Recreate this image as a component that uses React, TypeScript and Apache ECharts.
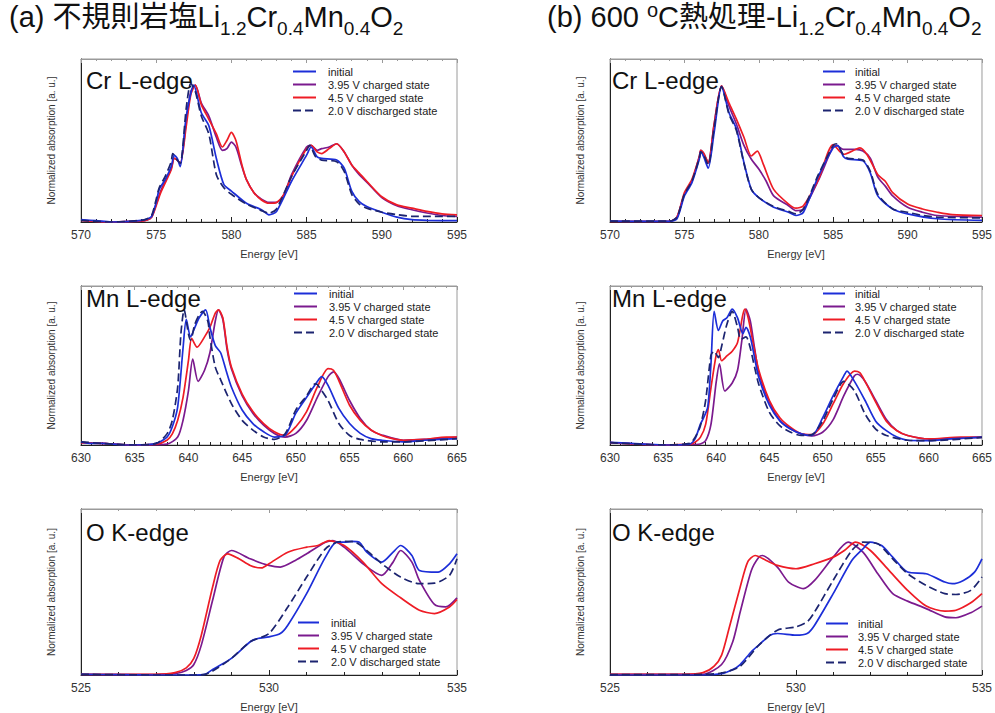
import React, { useEffect, useRef } from "react";
import * as echarts from "echarts";

const seriesNames = ["initial", "3.95 V charged state", "4.5 V charged state", "2.0 V discharged state"];
const seriesColors = ["#1c2ed8", "#7b1a8e", "#ee1c25", "#1c2470"];

// ---------- Cr L-edge, (a) ----------
const crA_init = [[570,0.014],[571,0.008],[572,0.0],[573,0.002],[574,0.01],[574.4,0.018],[574.7,0.035],[575,0.12],[575.2,0.2],[575.6,0.26],[576,0.34],[576.2,0.41],[576.4,0.39],[576.6,0.34],[577,0.65],[577.5,0.84],[578,0.67],[578.5,0.59],[579,0.39],[579.5,0.23],[580,0.19],[581,0.115],[582,0.075],[582.5,0.044],[583,0.065],[584,0.25],[585,0.41],[585.3,0.46],[585.7,0.4],[586,0.39],[587,0.38],[587.5,0.33],[588,0.19],[588.5,0.125],[589,0.095],[590,0.06],[591,0.03],[592,0.014],[593,0.01],[595,0.008]];
const crA_395 = [[570,0.012],[572,0.0],[574,0.005],[574.4,0.012],[574.7,0.03],[575,0.11],[575.3,0.19],[575.7,0.27],[576,0.33],[576.2,0.39],[576.4,0.38],[576.6,0.36],[577,0.62],[577.3,0.8],[577.6,0.84],[578,0.73],[578.5,0.65],[579,0.52],[579.4,0.44],[579.7,0.45],[580,0.49],[580.3,0.46],[580.7,0.34],[581,0.26],[581.5,0.18],[582,0.14],[582.5,0.12],[583,0.12],[583.5,0.17],[584,0.29],[585,0.46],[585.3,0.47],[585.7,0.44],[586,0.45],[586.5,0.46],[587,0.48],[587.5,0.43],[588,0.35],[588.5,0.29],[589,0.245],[590,0.15],[591,0.1],[592,0.075],[593,0.055],[594,0.04],[595,0.034]];
const crA_45 = [[570,0.01],[572,0.0],[574,0.005],[574.4,0.012],[574.7,0.03],[575,0.1],[575.3,0.18],[575.7,0.26],[576,0.32],[576.2,0.39],[576.4,0.38],[576.6,0.36],[577,0.59],[577.3,0.78],[577.6,0.84],[578,0.72],[578.5,0.63],[579,0.54],[579.4,0.46],[579.7,0.5],[580,0.55],[580.3,0.5],[580.7,0.35],[581,0.26],[581.5,0.18],[582,0.135],[582.5,0.115],[583,0.12],[583.5,0.17],[584,0.28],[585,0.45],[585.3,0.47],[585.7,0.43],[586,0.42],[586.5,0.45],[587,0.48],[587.5,0.43],[588,0.35],[588.5,0.3],[589,0.25],[590,0.155],[591,0.105],[592,0.085],[593,0.065],[594,0.05],[595,0.044]];
const crA_20 = [[570,0.01],[572,0.0],[574,0.01],[574.4,0.02],[574.7,0.04],[575,0.14],[575.2,0.21],[575.6,0.28],[576,0.37],[576.1,0.42],[576.4,0.38],[576.6,0.36],[577,0.7],[577.3,0.85],[577.6,0.8],[578,0.65],[578.5,0.54],[579,0.29],[579.5,0.21],[580,0.17],[581,0.11],[582,0.07],[582.5,0.055],[583,0.08],[584,0.28],[585,0.44],[585.2,0.47],[585.6,0.4],[586,0.38],[587,0.37],[587.5,0.31],[588,0.17],[588.5,0.11],[589,0.085],[590,0.06],[591,0.045],[592,0.035],[593,0.035],[595,0.035]];

// ---------- Cr L-edge, (b) ----------
const crB_init = [[570,0.005],[572,0.004],[574,0.004],[574.5,0.02],[575,0.16],[575.5,0.24],[576,0.385],[576.1,0.43],[576.3,0.4],[576.6,0.33],[577,0.55],[577.5,0.83],[578,0.67],[578.5,0.57],[579,0.365],[579.5,0.2],[580,0.15],[581,0.09],[582,0.06],[582.5,0.04],[583,0.06],[584,0.28],[585,0.455],[585.3,0.47],[585.7,0.4],[586,0.385],[587,0.375],[587.5,0.3],[588,0.16],[589,0.08],[590,0.05],[592,0.02],[595,0.01]];
const crB_395 = [[570,0.004],[574,0.004],[574.5,0.03],[575,0.17],[575.5,0.25],[576,0.4],[576.1,0.44],[576.3,0.42],[576.6,0.36],[577,0.6],[577.5,0.835],[578,0.71],[578.5,0.6],[579,0.47],[579.5,0.385],[580,0.325],[580.5,0.25],[581,0.16],[582,0.1],[582.5,0.07],[583,0.08],[584,0.255],[585,0.465],[585.2,0.47],[585.7,0.445],[586.5,0.445],[587,0.435],[587.5,0.39],[588,0.275],[588.5,0.22],[589,0.16],[590,0.09],[591,0.06],[592,0.04],[595,0.03]];
const crB_45 = [[570,0.003],[574,0.004],[574.5,0.03],[575,0.18],[575.5,0.26],[576,0.4],[576.1,0.44],[576.3,0.42],[576.6,0.365],[577,0.6],[577.5,0.835],[578,0.73],[578.5,0.63],[579,0.52],[579.5,0.405],[579.9,0.435],[580.3,0.355],[581,0.2],[582,0.11],[582.5,0.085],[583,0.1],[584,0.26],[585,0.475],[585.7,0.415],[586.5,0.445],[586.8,0.455],[587.3,0.41],[588,0.29],[588.5,0.25],[589,0.18],[590,0.11],[591,0.08],[592,0.06],[593,0.045],[595,0.04]];
const crB_20 = [[570,0.005],[574,0.005],[574.5,0.03],[575,0.17],[575.5,0.25],[576,0.39],[576.1,0.43],[576.3,0.41],[576.6,0.35],[577,0.58],[577.5,0.83],[578,0.66],[578.5,0.56],[579,0.36],[579.5,0.2],[580,0.15],[581,0.095],[582,0.065],[582.5,0.05],[583,0.08],[584,0.29],[585,0.47],[585.2,0.48],[585.7,0.41],[586,0.39],[587,0.38],[587.5,0.31],[588,0.17],[589,0.08],[590,0.06],[591,0.04],[592,0.03],[595,0.025]];

// ---------- Mn L-edge, (a) ----------
const mnA_init = [[630,0.02],[631,0.01],[632,0.01],[634,0.0],[635,0.0],[637,0.01],[638,0.05],[638.5,0.115],[639,0.24],[639.5,0.61],[639.8,0.79],[640.2,0.68],[640.6,0.74],[641,0.8],[641.6,0.85],[642,0.74],[642.5,0.625],[643,0.58],[643.5,0.47],[644,0.365],[645,0.22],[646,0.135],[647,0.083],[648,0.05],[649,0.06],[650,0.2],[651,0.3],[652,0.4],[652.4,0.43],[653,0.375],[654,0.23],[655,0.135],[656,0.073],[657,0.04],[658,0.03],[660,0.02],[662,0.03],[665,0.04]];
const mnA_395 = [[630,0.015],[632,0.01],[635,0.0],[638,0.006],[639,0.05],[639.5,0.156],[640,0.34],[640.4,0.54],[640.9,0.4],[641.5,0.47],[642,0.58],[642.5,0.78],[642.8,0.85],[643.2,0.79],[643.6,0.6],[644,0.48],[645,0.31],[646,0.2],[647,0.125],[648,0.073],[649,0.05],[650,0.073],[651,0.156],[652,0.3],[653,0.43],[653.5,0.46],[654,0.42],[655,0.28],[656,0.167],[657,0.094],[658,0.063],[660,0.03],[662,0.035],[665,0.05]];
const mnA_45 = [[630,0.015],[632,0.01],[635,0.0],[637,0.005],[638,0.03],[638.5,0.07],[639,0.156],[639.5,0.3],[640,0.53],[640.3,0.67],[640.8,0.615],[641.5,0.68],[642,0.74],[642.5,0.83],[642.8,0.85],[643.2,0.8],[643.6,0.615],[644,0.49],[645,0.32],[646,0.21],[647,0.135],[648,0.083],[649,0.06],[650,0.115],[651,0.21],[652,0.365],[653,0.48],[653.5,0.47],[654,0.405],[655,0.25],[656,0.155],[657,0.094],[658,0.06],[659,0.04],[660,0.03],[662,0.035],[664,0.05],[665,0.05]];
const mnA_20 = [[630,0.02],[632,0.01],[635,0.0],[637,0.01],[638,0.07],[638.5,0.155],[639,0.365],[639.3,0.7],[639.6,0.85],[640,0.7],[640.2,0.66],[640.6,0.76],[641,0.82],[641.3,0.84],[641.8,0.78],[642,0.68],[642.5,0.49],[643,0.41],[644,0.26],[645,0.155],[646,0.094],[647,0.05],[648,0.035],[649,0.07],[650,0.22],[651,0.31],[651.8,0.385],[652,0.38],[653,0.28],[654,0.135],[655,0.06],[656,0.035],[658,0.02],[660,0.02],[665,0.04]];

// ---------- Mn L-edge, (b) ----------
const mnB_init = [[630,0.017],[632,0.01],[635,0.0],[637.5,0.006],[638,0.038],[638.5,0.13],[638.8,0.17],[639.2,0.24],[639.5,0.51],[639.8,0.84],[640.2,0.72],[640.6,0.78],[641,0.8],[641.5,0.855],[642,0.8],[642.5,0.7],[642.8,0.74],[643.2,0.68],[643.6,0.55],[644,0.425],[645,0.25],[646,0.15],[647,0.1],[648,0.07],[649,0.06],[650,0.17],[651,0.31],[652,0.435],[652.3,0.465],[653,0.4],[654,0.28],[655,0.15],[656,0.09],[657,0.05],[658,0.03],[660,0.027],[662,0.038],[665,0.05]];
const mnB_395 = [[630,0.015],[635,0.0],[638,0.003],[638.5,0.006],[639,0.027],[639.5,0.13],[640,0.4],[640.3,0.51],[640.8,0.34],[641.5,0.39],[642,0.47],[642.4,0.655],[642.8,0.855],[643.2,0.78],[643.6,0.61],[644,0.455],[645,0.27],[646,0.153],[647,0.1],[648,0.07],[649,0.057],[650,0.08],[651,0.16],[652,0.31],[653,0.435],[653.3,0.445],[654,0.4],[655,0.28],[656,0.16],[657,0.09],[658,0.06],[660,0.038],[665,0.048]];
const mnB_45 = [[630,0.015],[635,0.0],[637.5,0.005],[638,0.017],[638.5,0.048],[639,0.13],[639.5,0.36],[640,0.57],[640.2,0.6],[640.5,0.53],[641,0.56],[641.5,0.59],[642,0.645],[642.5,0.82],[642.7,0.855],[643,0.8],[643.5,0.63],[644,0.47],[645,0.28],[646,0.17],[647,0.11],[648,0.07],[649,0.065],[650,0.13],[651,0.26],[652,0.39],[653,0.465],[653.5,0.455],[654,0.4],[655,0.27],[656,0.15],[657,0.09],[658,0.06],[660,0.038],[663,0.05],[665,0.05]];
const mnB_20 = [[630,0.015],[635,0.0],[637.5,0.01],[638,0.048],[638.5,0.12],[639,0.28],[639.5,0.565],[639.8,0.59],[640.2,0.55],[640.5,0.62],[641,0.76],[641.5,0.84],[642,0.74],[642.3,0.665],[642.8,0.68],[643.2,0.61],[643.6,0.49],[644,0.38],[645,0.205],[646,0.12],[647,0.08],[648,0.06],[649,0.065],[650,0.15],[651,0.29],[652,0.4],[653,0.34],[654,0.195],[655,0.1],[656,0.06],[658,0.03],[660,0.027],[665,0.048]];

// ---------- O K-edge, (a) ----------
const oA_init = [[525,0.004],[526,0.002],[527,0.0],[528,0.0],[528.3,0.004],[528.5,0.033],[529,0.1],[529.5,0.2],[529.7,0.22],[530,0.23],[530.3,0.25],[530.5,0.3],[531,0.49],[531.5,0.71],[531.8,0.8],[532,0.8],[532.2,0.805],[532.4,0.8],[532.6,0.74],[533,0.68],[533.3,0.74],[533.5,0.78],[533.8,0.72],[534,0.63],[534.5,0.62],[534.8,0.67],[535,0.73]];
const oA_395 = [[525,0.004],[526,0.002],[527,0.004],[527.5,0.008],[527.8,0.027],[528,0.063],[528.2,0.18],[528.5,0.45],[528.8,0.71],[529,0.75],[529.5,0.7],[530,0.66],[530.3,0.65],[530.7,0.69],[531,0.73],[531.5,0.8],[531.7,0.81],[532,0.77],[532.5,0.67],[533,0.6],[533.3,0.68],[533.5,0.75],[533.8,0.68],[534,0.57],[534.4,0.425],[534.7,0.41],[535,0.465]];
const oA_45 = [[525,0.004],[526,0.004],[527,0.004],[527.5,0.014],[527.8,0.043],[528,0.1],[528.2,0.24],[528.5,0.53],[528.7,0.69],[528.9,0.73],[529.2,0.7],[529.5,0.66],[529.8,0.645],[530,0.67],[530.5,0.74],[531,0.77],[531.3,0.78],[531.6,0.81],[532,0.78],[532.5,0.68],[533,0.55],[533.5,0.465],[534,0.39],[534.4,0.37],[534.8,0.41],[535,0.455]];
const oA_20 = [[525,0.004],[527,0.0],[528,0.0],[528.3,0.004],[528.5,0.024],[529,0.1],[529.5,0.2],[530,0.25],[530.5,0.41],[531,0.59],[531.5,0.76],[531.8,0.8],[532,0.805],[532.3,0.8],[532.8,0.71],[533,0.67],[533.5,0.59],[534,0.55],[534.4,0.553],[534.8,0.6],[535,0.7]];

// ---------- O K-edge, (b) ----------
const oB_init = [[525,0.0],[527,0.0],[527.5,0.0],[528,0.008],[528.3,0.033],[528.5,0.063],[528.8,0.14],[529,0.18],[529.3,0.24],[529.5,0.25],[530,0.24],[530.3,0.25],[530.5,0.3],[531,0.49],[531.5,0.69],[531.8,0.76],[532,0.8],[532.3,0.78],[532.6,0.71],[533,0.62],[533.5,0.61],[534,0.56],[534.2,0.55],[534.5,0.57],[534.8,0.62],[535,0.7]];
const oB_395 = [[525,0.004],[527,0.004],[527.5,0.004],[528,0.063],[528.3,0.2],[528.5,0.38],[528.8,0.63],[529,0.71],[529.1,0.72],[529.5,0.65],[529.8,0.56],[530.2,0.52],[530.5,0.57],[531,0.71],[531.4,0.8],[531.8,0.74],[532.2,0.61],[532.6,0.49],[533,0.445],[533.5,0.4],[534,0.35],[534.3,0.345],[534.7,0.375],[535,0.415]];
const oB_45 = [[525,0.004],[526,0.004],[527,0.004],[527.5,0.014],[527.8,0.053],[528,0.12],[528.2,0.28],[528.5,0.53],[528.7,0.68],[528.9,0.72],[529.2,0.69],[529.5,0.66],[530,0.64],[530.5,0.67],[531,0.71],[531.3,0.75],[531.6,0.8],[532,0.75],[532.5,0.63],[533,0.51],[533.5,0.415],[534,0.385],[534.3,0.39],[534.7,0.435],[535,0.49]];
const oB_20 = [[525,0.002],[527,0.002],[527.5,0.004],[528,0.012],[528.5,0.053],[529,0.18],[529.5,0.27],[530,0.29],[530.3,0.32],[530.5,0.38],[531,0.57],[531.5,0.75],[531.8,0.8],[532.2,0.79],[532.6,0.7],[533,0.61],[533.5,0.54],[534,0.49],[534.3,0.485],[534.7,0.51],[535,0.59]];

const FONT = "'Liberation Sans', Arial, 'Noto Sans CJK JP', sans-serif";

type Panel = {
  grid: { left: number; top: number; width: number; height: number };
  xr: [number, number];
  label: string;
  labelPos: [number, number];
  data: number[][][]; // initial, 3.95, 4.5, 2.0
  legend: { left: number; top: number; w: number; pad: number };
};

const panels: Panel[] = [
  { grid: { left: 81, top: 59, width: 376, height: 163 }, xr: [570, 595], label: "Cr L-edge", labelPos: [86, 81], data: [crA_init, crA_395, crA_45, crA_20], legend: { left: 292, top: 65, w: 23, pad: 7 } },
  { grid: { left: 81, top: 286, width: 376, height: 159 }, xr: [630, 665], label: "Mn L-edge", labelPos: [86, 299], data: [mnA_init, mnA_395, mnA_45, mnA_20], legend: { left: 293, top: 287, w: 23, pad: 7 } },
  { grid: { left: 81, top: 509, width: 376, height: 170 }, xr: [525, 535], label: "O K-edge", labelPos: [86, 533], data: [oA_init, oA_395, oA_45, oA_20], legend: { left: 297, top: 616, w: 21, pad: 7 } },
  { grid: { left: 610, top: 59, width: 374, height: 163 }, xr: [570, 595], label: "Cr L-edge", labelPos: [612, 81], data: [crB_init, crB_395, crB_45, crB_20], legend: { left: 822, top: 65, w: 22, pad: 5 } },
  { grid: { left: 610, top: 286, width: 374, height: 159 }, xr: [630, 665], label: "Mn L-edge", labelPos: [612, 299], data: [mnB_init, mnB_395, mnB_45, mnB_20], legend: { left: 822, top: 287, w: 22, pad: 5 } },
  { grid: { left: 610, top: 509, width: 374, height: 170 }, xr: [525, 535], label: "O K-edge", labelPos: [612, 533], data: [oB_init, oB_395, oB_45, oB_20], legend: { left: 825, top: 617, w: 22, pad: 5 } },
];

function buildOption() {
  const grid: any[] = [];
  const xAxis: any[] = [];
  const yAxis: any[] = [];
  const series: any[] = [];
  const legend: any[] = [];
  const graphic: any[] = [];

  panels.forEach((p, i) => {
    grid.push({ ...p.grid, show: true, borderColor: "#9a9a9a", borderWidth: 1, containLabel: false });
    const common = {
      type: "value",
      gridIndex: i,
      min: p.xr[0],
      max: p.xr[1],
      interval: 5,
      splitLine: { show: false },
      minorSplitLine: { show: false },
    };
    xAxis.push({
      ...common,
      position: "bottom",
      axisLine: { show: true, lineStyle: { color: "#222", width: 1 } },
      axisTick: { show: true, inside: true, length: 5, lineStyle: { color: "#222" } },
      minorTick: { show: true, splitNumber: 5, length: 3, lineStyle: { color: "#222" } },
      axisLabel: { show: true, fontSize: 12, color: "#333", margin: 7, fontFamily: FONT },
      name: "Energy [eV]",
      nameLocation: "middle",
      nameGap: 26,
      nameTextStyle: { fontSize: 11, color: "#333", fontFamily: FONT },
    });
    xAxis.push({
      ...common,
      position: "top",
      axisLine: { show: true, lineStyle: { color: "#9a9a9a", width: 1 } },
      axisTick: { show: true, inside: true, length: 4, lineStyle: { color: "#9a9a9a" } },
      minorTick: { show: true, splitNumber: 5, length: 2, lineStyle: { color: "#9a9a9a" } },
      axisLabel: { show: false },
    });
    yAxis.push({
      type: "value",
      gridIndex: i,
      min: 0,
      max: 1,
      axisLine: { show: true, lineStyle: { color: "#222", width: 1 } },
      axisTick: { show: false },
      axisLabel: { show: false },
      splitLine: { show: false },
      name: "Normalized absorption [a. u.]",
      nameLocation: "middle",
      nameGap: 25,
      nameTextStyle: { fontSize: 10, color: "#333", fontFamily: FONT },
    });
    const order = [1, 2, 0, 3];
    order.forEach((k) => {
      series.push({
        type: "line",
        name: seriesNames[k],
        xAxisIndex: i * 2,
        yAxisIndex: i,
        data: p.data[k],
        symbol: "none",
        showSymbol: false,
        smooth: 0.25,
        z: 3,
        lineStyle: { color: seriesColors[k], width: 1.7, type: k === 3 ? [8, 4] : "solid" },
        itemStyle: { color: seriesColors[k] },
      });
    });
    legend.push({
      data: seriesNames,
      orient: "vertical",
      left: p.legend.left,
      top: p.legend.top,
      itemWidth: p.legend.w,
      itemHeight: 13,
      itemGap: 0,
      padding: 0,
      selectedMode: false,
      itemStyle: { opacity: 0, borderWidth: 0 },
      lineStyle: { width: 2 },
      textStyle: { fontSize: 11, color: "#222", lineHeight: 13, fontFamily: FONT, padding: [0, 0, 0, p.legend.pad] },
    });
    graphic.push({
      type: "text",
      left: p.labelPos[0],
      top: p.labelPos[1] - 13,
      z: 10,
      style: { text: p.label, fontSize: 24, fill: "#111", fontFamily: FONT },
    });
  });

  const titleRich = {
    s: { fontSize: 19, lineHeight: 19, padding: [22, 0, 0, 0], fill: "#111", fontFamily: FONT },
    o: { fontSize: 20, lineHeight: 20, padding: [0, 0, 14, 0], fill: "#111", fontFamily: FONT },
  };
  graphic.push({
    type: "text",
    x: 9,
    y: 0,
    z: 10,
    style: {
      text: "(a) 不規則岩塩Li{s|1.2}Cr{s|0.4}Mn{s|0.4}O{s|2}",
      fontSize: 29,
      lineHeight: 34,
      fill: "#111",
      fontFamily: FONT,
      rich: titleRich,
    },
  });
  graphic.push({
    type: "text",
    x: 547,
    y: 0,
    z: 10,
    style: {
      text: "(b) 600 {o|o}C熱処理-Li{s|1.2}Cr{s|0.4}Mn{s|0.4}O{s|2}",
      fontSize: 29,
      lineHeight: 34,
      fill: "#111",
      fontFamily: FONT,
      rich: titleRich,
    },
  });

  return {
    animation: false,
    backgroundColor: "#ffffff",
    textStyle: { fontFamily: FONT },
    grid,
    xAxis,
    yAxis,
    series,
    legend,
    graphic,
  };
}

export default function App() {
  const ref = useRef<HTMLDivElement>(null);
  useEffect(() => {
    if (!ref.current) return;
    const chart = echarts.init(ref.current, undefined, { renderer: "svg" });
    chart.setOption(buildOption());
    return () => chart.dispose();
  }, []);
  return <div ref={ref} style={{ position: "absolute", left: 0, top: 0, width: 995, height: 713 }} />;
}
